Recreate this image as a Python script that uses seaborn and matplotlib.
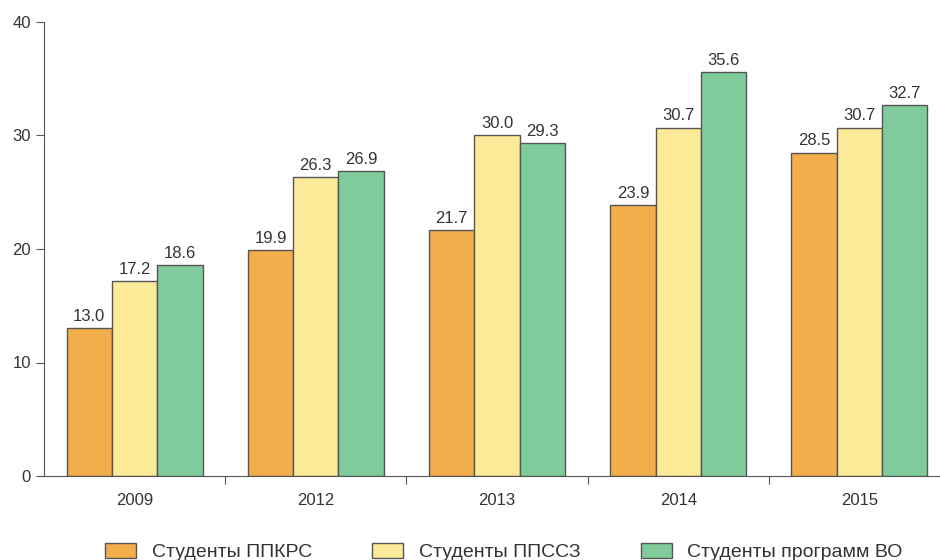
import pandas as pd
import matplotlib.pyplot as plt
import seaborn as sns

# ===============================
# Data
# ===============================

years = ["2009", "2012", "2013", "2014", "2015"]
series = ["Студенты ППКРС", "Студенты ППССЗ", "Студенты программ ВО"]
ppkrs = [13.0, 19.9, 21.7, 23.9, 28.5]
ppssz = [17.2, 26.3, 30.0, 30.7, 30.7]
vo = [18.6, 26.9, 29.3, 35.6, 32.7]
colors = ["#F2AE4B", "#FDEA98", "#80CB9B"]

df = pd.DataFrame({
    "year": years * 3,
    "series": [series[0]] * 5 + [series[1]] * 5 + [series[2]] * 5,
    "value": ppkrs + ppssz + vo,
})

# ===============================
# Plot
# ===============================

sns.set_style("white")
plt.rcParams['font.family'] = ['Liberation Sans', 'DejaVu Sans']

fig = plt.figure(figsize=(9.4, 5.6), dpi=100)
ax = fig.add_axes([44 / 940, 84 / 560, 906 / 940, 454 / 560])

sns.barplot(
    data=df, x="year", y="value", hue="series",
    palette=colors, width=0.75, edgecolor="#555555", linewidth=1,
    saturation=1, ax=ax, legend=True
)

for cont in ax.containers:
    ax.bar_label(cont, fmt="%.1f", padding=3, fontsize=12, color="#333333")

ax.set_ylim(0, 40)
ax.set_xlim(-0.5, 4.5)
ax.set_yticks([0, 10, 20, 30, 40])
ax.set_xlabel("")
ax.set_ylabel("")

for s in ["top", "right"]:
    ax.spines[s].set_visible(False)
ax.spines["left"].set_color("#555555")
ax.spines["bottom"].set_color("#555555")

# x ticks between groups, year labels centred under groups
ax.set_xticks([0.5, 1.5, 2.5, 3.5], minor=False)
ax.set_xticklabels([])
ax.set_xticks(range(5), minor=True)
ax.set_xticklabels(years, minor=True)
ax.tick_params(axis="x", which="major", length=6, direction="out", color="#555555", bottom=True)
ax.tick_params(axis="x", which="minor", length=0, pad=12, labelsize=12, labelcolor="#333333")
ax.tick_params(axis="y", length=6, direction="out", color="#555555", left=True,
               labelsize=12, labelcolor="#333333")
ax.spines["bottom"].set_bounds(-0.52, 4.5)

handles, labels = ax.get_legend_handles_labels()
ax.legend_.remove()
fig.legend(handles, labels, loc="center left", bbox_to_anchor=(105 / 940, 8 / 560), ncol=3,
           frameon=False, fontsize=14, handlelength=1.6, handleheight=0.8,
           columnspacing=3.1, handletextpad=0.8, labelcolor="#333333",
           borderaxespad=0, borderpad=0)

plt.savefig("out.png", dpi=100)
